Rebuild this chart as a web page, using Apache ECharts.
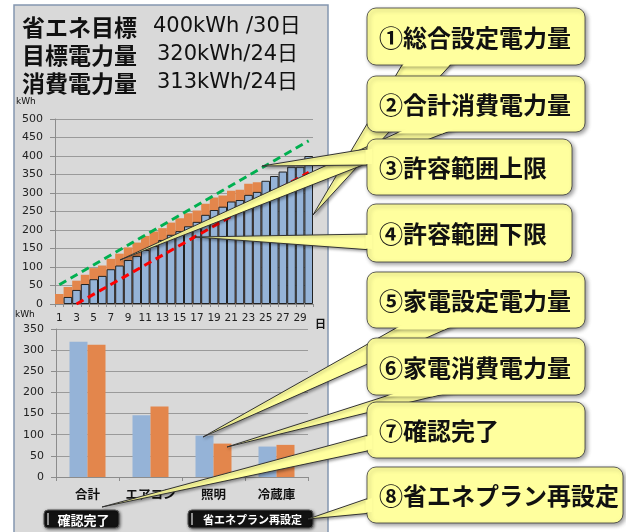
<!DOCTYPE html>
<html>
<head>
<meta charset="utf-8">
<script src="https://cdn.jsdelivr.net/npm/echarts@6/dist/echarts.min.js"></script>
<style>
  html, body { margin: 0; padding: 0; background: #fff; }
  #chart { width: 626px; height: 532px; }
</style>
</head>
<body>
<div id="chart"></div>
<script>
// 日別（累積）
const dayLabels = ['1', '2', '3', '4', '5', '6', '7', '8', '9', '10',
  '11', '12', '13', '14', '15', '16', '17', '18', '19', '20',
  '21', '22', '23', '24', '25', '26', '27', '28', '29', '30'];
const cumSetting = [null, 19, 38, 54, 67, 76, 94, 104, 119, 130,
  146, 157, 173, 187, 197, 210, 222, 241, 254, 263,
  277, 281, 295, 303, 333, 346, 358, 371, 371, 400];
const cumUsage = [27, 46, 63, 79, 97, 104, 122, 136, 153, 166,
  184, 196, 205, 220, 232, 245, 253, 271, 288, 293,
  306, 309, 325, 329, null, null, null, null, null, null];
// 許容範囲（始点と終点だけ）
const upperLimit = [52, null, null, null, null, null, null, null, null, null,
  null, null, null, null, null, null, null, null, null, null,
  null, null, null, null, null, null, null, null, null, 441];
const lowerLimit = [null, null, 0, null, null, null, null, null, null, null,
  null, null, null, null, null, null, null, null, null, null,
  null, null, null, null, null, null, null, null, null, 356];

// 家電別
const applianceNames = ['合計', 'エアコン', '照明', '冷蔵庫'];
const applianceSetting = [320, 146, 98, 72];
const applianceUsage = [313, 167, 79, 76];

const JP = '"Noto Sans CJK JP", sans-serif';
const NUM = '"DejaVu Sans", "Noto Sans CJK JP", sans-serif';
const BLUE = '#95B3D7';
const ORANGE = '#E3864C';
const YELLOW = '#FFFF9E';

const chart = echarts.init(document.getElementById('chart'));

// 吹き出し
const callouts = [
  { text: '①総合設定電力量', x: 367, y: 8, w: 218, h: 57, side: 'bottom', tail: [[405, 60], [455, 60], [313, 215]] },
  { text: '②合計消費電力量', x: 367, y: 76, w: 218, h: 56, side: 'bottom', tail: [[410, 127], [460, 127], [120, 260]] },
  { text: '③許容範囲上限', x: 367, y: 139, w: 205, h: 56, side: 'left', tail: [[372, 148], [372, 165], [262, 166]] },
  { text: '④許容範囲下限', x: 367, y: 204, w: 205, h: 58, side: 'left', tail: [[372, 234], [372, 250], [195, 237]] },
  { text: '⑤家電設定電力量', x: 367, y: 272, w: 218, h: 56, side: 'bottom', tail: [[405, 323], [460, 323], [203, 437]] },
  { text: '⑥家電消費電力量', x: 367, y: 338, w: 218, h: 57, side: 'bottom', tail: [[405, 390], [460, 390], [227, 447]] },
  { text: '⑦確認完了', x: 367, y: 402, w: 218, h: 56, side: 'left', tail: [[372, 434], [372, 450], [102, 507]] },
  { text: '⑧省エネプラン再設定', x: 367, y: 467, w: 256, h: 56, side: 'left', tail: [[372, 497], [372, 513], [308, 519]] }
];

function along(p, t, key, val) {
  const k = (val - p[key]) / (t[key] - p[key]);
  return [p[0] + (t[0] - p[0]) * k, p[1] + (t[1] - p[1]) * k];
}

function buildCallouts() {
  const els = [];
  let z = 20;
  callouts.forEach(c => {
    const [b1, b2, tip] = c.tail;
    els.push({
      type: 'polygon', z: z++,
      shape: { points: c.tail },
      style: { fill: YELLOW, stroke: '#333', lineWidth: 1,
        shadowBlur: 3, shadowOffsetX: 1.5, shadowOffsetY: 1.5, shadowColor: 'rgba(0,0,0,0.35)' }
    });
    els.push({
      type: 'rect', z: z++,
      shape: { x: c.x, y: c.y, width: c.w, height: c.h, r: 9 },
      style: { fill: YELLOW, stroke: '#3a3a3a', lineWidth: 0.8,
        shadowBlur: 4, shadowOffsetX: 2, shadowOffsetY: 2, shadowColor: 'rgba(0,0,0,0.4)' }
    });
    // 吹き出しの付け根の枠線を消す
    let patch;
    if (c.side === 'bottom') {
      const yy = c.y + c.h + 1.5;
      const p1 = along(b1, tip, 1, yy), p2 = along(b2, tip, 1, yy);
      patch = [[b1[0] + 1, b1[1]], [b2[0] - 1, b2[1]], [p2[0] - 1, p2[1]], [p1[0] + 1, p1[1]]];
    } else {
      const xx = c.x - 1.5;
      const p1 = along(b1, tip, 0, xx), p2 = along(b2, tip, 0, xx);
      patch = [[b1[0], b1[1] + 1], [b2[0], b2[1] - 1], [p2[0], p2[1] - 1], [p1[0], p1[1] + 1]];
    }
    els.push({ type: 'polygon', z: z++, shape: { points: patch }, style: { fill: YELLOW } });
    els.push({
      type: 'text', z: z++,
      style: { text: c.text, x: c.x + 12, y: c.y + c.h / 2 + 1, fill: '#111',
        font: 'bold 24px ' + JP, textVerticalAlign: 'middle', verticalAlign: 'middle' }
    });
  });
  return els;
}

function button(x, y, w, h, label, size) {
  return [
    { type: 'rect', z: 5, shape: { x: x, y: y, width: w, height: h, r: 4 },
      style: { fill: '#121212', stroke: '#555', lineWidth: 1,
        shadowBlur: 3, shadowOffsetX: 1, shadowOffsetY: 1, shadowColor: 'rgba(0,0,0,0.5)' } },
    { type: 'line', z: 6, shape: { x1: x + 4, y1: y + 3, x2: x + 4, y2: y + h - 3 },
      style: { stroke: '#bbb', lineWidth: 1.5 } },
    { type: 'text', z: 6,
      style: { text: label, x: x + w / 2 + 2, y: y + h / 2 + 1, fill: '#fff',
        font: 'bold ' + size + 'px ' + JP, textAlign: 'center', align: 'center',
        textVerticalAlign: 'middle', verticalAlign: 'middle' } }
  ];
}

function headerText(text, x, y, font) {
  return { type: 'text', z: 5,
    style: { text: text, x: x, y: y, fill: '#111', font: font,
      textVerticalAlign: 'middle', verticalAlign: 'middle' } };
}

const graphics = [
  { type: 'rect', z: -1, shape: { x: 14, y: 5, width: 314, height: 540 },
    style: { fill: '#D9D9D9', stroke: '#8496B0', lineWidth: 1.5 } },
  headerText('省エネ目標', 22, 27, 'bold 23px ' + JP),
  headerText('400kWh /30日', 153, 27, '21px ' + NUM),
  headerText('目標電力量', 22, 55, 'bold 23px ' + JP),
  headerText('320kWh/24日', 157, 55, '21px ' + NUM),
  headerText('消費電力量', 22, 83, 'bold 23px ' + JP),
  headerText('313kWh/24日', 157, 83, '21px ' + NUM),
  headerText('kWh', 16, 102, '9px ' + NUM),
  headerText('kWh', 15, 315, '9px ' + NUM),
  headerText('日', 315, 324, 'bold 11px ' + JP),
  ...button(44, 510, 75, 18, '確認完了', 13),
  ...button(188, 510, 125, 18, '省エネプラン再設定', 11),
  ...buildCallouts()
];

const axisGray = '#8c8c8c';
const labelStyle = { color: '#222', fontSize: 11, fontFamily: NUM };

chart.setOption({
  animation: false,
  backgroundColor: '#fff',
  grid: [
    { left: 55, top: 119, width: 258, height: 185 },
    { left: 56, top: 329, width: 252, height: 148 }
  ],
  xAxis: [
    {
      gridIndex: 0, type: 'category', data: dayLabels,
      axisLine: { lineStyle: { color: axisGray } },
      axisTick: { show: true, interval: 0, length: 3, lineStyle: { color: axisGray } },
      axisLabel: { interval: 1, margin: 9, color: '#222', fontSize: 10.5, fontFamily: NUM }
    },
    {
      gridIndex: 1, type: 'category', data: applianceNames,
      axisLine: { lineStyle: { color: axisGray } },
      axisTick: { show: true, length: 4, lineStyle: { color: axisGray } },
      axisLabel: { interval: 0, margin: 11, color: '#111', fontSize: 12.5, fontWeight: 'bold', fontFamily: JP }
    }
  ],
  yAxis: [
    {
      gridIndex: 0, type: 'value', min: 0, max: 500, interval: 50,
      axisLine: { show: true, lineStyle: { color: axisGray } },
      axisTick: { show: true, length: 5, lineStyle: { color: axisGray } },
      splitLine: { lineStyle: { color: '#9a9a9a' } },
      axisLabel: Object.assign({ margin: 12 }, labelStyle)
    },
    {
      gridIndex: 1, type: 'value', min: 0, max: 350, interval: 50,
      axisLine: { show: true, lineStyle: { color: axisGray } },
      axisTick: { show: true, length: 5, lineStyle: { color: axisGray } },
      splitLine: { lineStyle: { color: '#9a9a9a' } },
      axisLabel: Object.assign({ margin: 12 }, labelStyle)
    }
  ],
  series: [
    {
      name: '消費電力量', type: 'bar', xAxisIndex: 0, yAxisIndex: 0,
      data: cumUsage, barGap: '-100%', barCategoryGap: '0%', z: 2,
      itemStyle: { color: ORANGE }
    },
    {
      name: '設定電力量', type: 'bar', xAxisIndex: 0, yAxisIndex: 0,
      data: cumSetting, barGap: '-100%', barCategoryGap: '0%', z: 3,
      itemStyle: { color: BLUE, borderColor: '#222', borderWidth: 1 }
    },
    {
      name: '許容範囲上限', type: 'line', xAxisIndex: 0, yAxisIndex: 0,
      data: upperLimit, connectNulls: true, symbol: 'none', z: 4,
      lineStyle: { color: '#00B050', width: 3, type: [8, 5] }
    },
    {
      name: '許容範囲下限', type: 'line', xAxisIndex: 0, yAxisIndex: 0,
      data: lowerLimit, connectNulls: true, symbol: 'none', z: 4,
      lineStyle: { color: '#FF0000', width: 3, type: [8, 5] }
    },
    {
      name: '家電設定電力量', type: 'bar', xAxisIndex: 1, yAxisIndex: 1,
      data: applianceSetting, barWidth: 18, barGap: '0%',
      itemStyle: { color: BLUE }
    },
    {
      name: '家電消費電力量', type: 'bar', xAxisIndex: 1, yAxisIndex: 1,
      data: applianceUsage, barWidth: 18, barGap: '0%',
      itemStyle: { color: ORANGE }
    }
  ],
  graphic: { elements: graphics }
});
</script>
</body>
</html>
